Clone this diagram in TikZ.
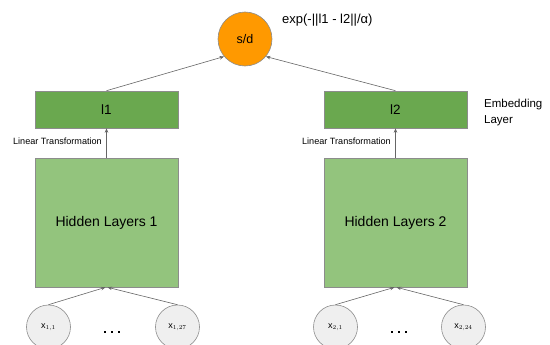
\documentclass[tikz,border=0pt]{standalone}
\usepackage{fontspec}
\setmainfont{Liberation Sans}
\usetikzlibrary{arrows.meta}
\definecolor{embgreen}{HTML}{6AA84F}
\definecolor{hidgreen}{HTML}{93C47D}
\definecolor{inputgray}{HTML}{EFEFEF}
\definecolor{outorange}{HTML}{FF9900}
\definecolor{edgegray}{HTML}{8C8C8C}
\definecolor{arrowgray}{HTML}{666666}
\tikzset{
  embbox/.style={draw=edgegray, line width=0.6pt, fill=embgreen, minimum width=143pt, minimum height=37pt, inner sep=0pt, font=\fontsize{13.5}{16}\selectfont},
  hidbox/.style={draw=edgegray, line width=0.6pt, fill=hidgreen, minimum width=143pt, minimum height=129pt, inner sep=0pt, font=\fontsize{14}{16}\selectfont},
  inputnode/.style={circle, draw=edgegray, line width=0.6pt, fill=inputgray, minimum size=44pt, inner sep=0pt, font=\fontsize{9}{10}\selectfont},
  outnode/.style={circle, draw=edgegray, line width=0.6pt, fill=outorange, minimum size=54pt, inner sep=0pt, font=\fontsize{12.5}{15}\selectfont},
  conn/.style={draw=arrowgray, line width=0.6pt, -{Stealth[length=4.5pt,width=3.5pt]}},
  smalllabel/.style={font=\fontsize{9.1}{10}\selectfont, inner sep=0pt},
  ellipsisdot/.style={fill=black, rectangle, minimum size=2pt, inner sep=0pt}
}
\begin{document}
\begin{tikzpicture}[x=1pt,y=-1pt]
  \useasboundingbox (0,0) rectangle (550,345);
  \clip (0,0) rectangle (550,345);

  % output similarity node
  \node[outnode] (sd) at (245,39) {s/d};
  \node[anchor=west, inner sep=0pt, font=\fontsize{13}{15}\selectfont] (formula) at (282,20) {exp(-||l1 - l2||/α)};

  % embedding layer
  \node[embbox] (l1) at (106.5,109.5) {l1};
  \node[embbox] (l2) at (395.5,109.5) {l2};
  \node[anchor=west, align=left, inner sep=0pt, font=\fontsize{11.5}{16}\selectfont] (emb) at (484,113) {Embedding\\Layer};

  % hidden layers
  \node[hidbox] (h1) at (106.5,222.5) {Hidden Layers 1};
  \node[hidbox] (h2) at (395.5,222.5) {Hidden Layers 2};

  % inputs
  \node[inputnode] (x11) at (48.5,327) {x$_{1,1}$};
  \node[inputnode] (x127) at (177.5,327) {x$_{1,27}$};
  \node[inputnode] (x21) at (335.5,327) {x$_{2,1}$};
  \node[inputnode] (x224) at (463.5,327) {x$_{2,24}$};

  % ellipses between the inputs
  \foreach \i/\cx in {a/105, b/112, c/119, d/392, e/399, f/406}
    \node[ellipsisdot] (dot\i) at (\cx,332) {};

  % connectors
  \draw[conn] (x11.north) -- ([xshift=-1pt]h1.south);
  \draw[conn] (x127.north) -- ([xshift=1pt]h1.south);
  \draw[conn] (x21.north) -- ([xshift=-1pt]h2.south);
  \draw[conn] (x224.north) -- ([xshift=1pt]h2.south);
  \draw[conn] (h1.north) -- (l1.south);
  \draw[conn] (h2.north) -- (l2.south);
  \node[smalllabel, anchor=east] (lt1) at (102,141) {Linear Transformation};
  \node[smalllabel, anchor=east] (lt2) at (391,141) {Linear Transformation};
  \draw[conn] (l1.north) -- (sd.220);
  \draw[conn] (l2.north) -- (sd.320);
\end{tikzpicture}
\end{document}
